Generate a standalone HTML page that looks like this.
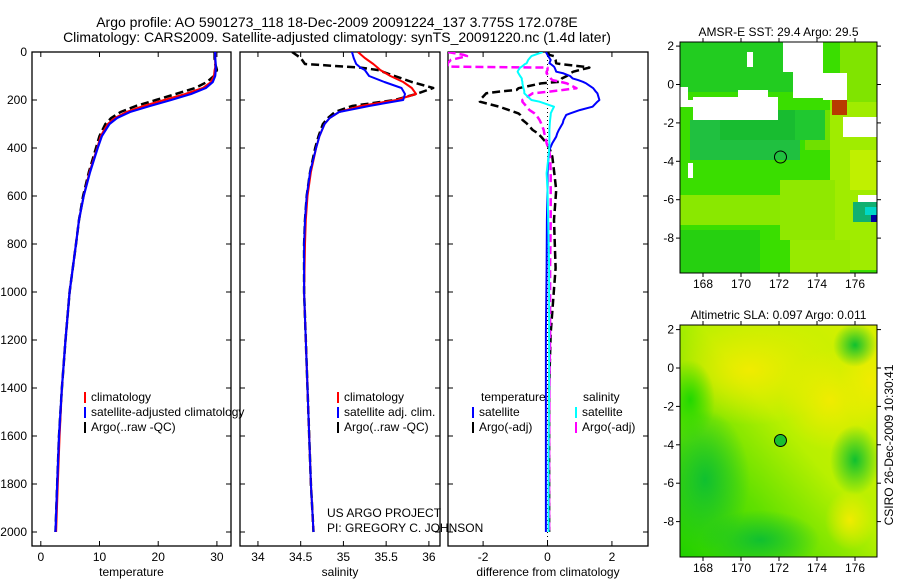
<!DOCTYPE html>
<html><head><meta charset="utf-8">
<style>
html,body{margin:0;padding:0;background:#fff;}
body{width:900px;height:580px;overflow:hidden;font-family:"Liberation Sans",sans-serif;}
svg text{font-family:"Liberation Sans",sans-serif;fill:#000;}
</style></head>
<body>
<svg id="fig" width="900" height="580" viewBox="0 0 900 580" xmlns="http://www.w3.org/2000/svg">
<defs>
<radialGradient id="gy" cx="50%" cy="50%" r="50%"><stop offset="0" stop-color="#f0ec00"/><stop offset="1" stop-color="#f0ec00" stop-opacity="0"/></radialGradient>
<radialGradient id="gg" cx="50%" cy="50%" r="50%"><stop offset="0" stop-color="#10c030"/><stop offset="1" stop-color="#10c030" stop-opacity="0"/></radialGradient>
<radialGradient id="gb" cx="50%" cy="50%" r="50%"><stop offset="0" stop-color="#22d800"/><stop offset="1" stop-color="#22d800" stop-opacity="0"/></radialGradient>
<linearGradient id="slabg" x1="1" y1="0" x2="0" y2="1"><stop offset="0" stop-color="#d8f000"/><stop offset="0.45" stop-color="#b8f000"/><stop offset="0.7" stop-color="#60e000"/><stop offset="1" stop-color="#20d000"/></linearGradient>
<clipPath id="m1clip"><rect x="680" y="42" width="197" height="231"/></clipPath>
<clipPath id="m2clip"><rect x="680" y="325" width="197" height="232"/></clipPath>
<clipPath id="p1c"><rect x="32" y="52" width="199" height="494"/></clipPath>
<clipPath id="p2c"><rect x="240" y="52" width="200" height="494"/></clipPath>
<clipPath id="p3c"><rect x="448" y="52" width="200" height="494"/></clipPath>
</defs>
<text x="337" y="27" font-size="14" text-anchor="middle">Argo profile: AO 5901273_118 18-Dec-2009 20091224_137 3.775S 172.078E</text>
<text x="337" y="42" font-size="14" text-anchor="middle">Climatology: CARS2009. Satellite-adjusted climatology: synTS_20091220.nc (1.4d later)</text>
<g id="panels"></g>
<g id="maps"></g>
</svg>
<script>
// ---- profile data (depth in m) ----
const depth = [0,25,50,65,75,100,125,150,175,200,225,250,275,300,350,400,500,600,700,800,1000,1200,1400,1600,1800,2000];
const tempArgo = [29.6,29.6,29.7,29.9,30.0,29.5,28.3,26.3,23.0,19.6,16.2,13.6,12.0,11.0,10.0,9.4,8.2,7.2,6.5,6.0,4.9,4.2,3.6,3.1,2.8,2.5];
const tempClim = [29.7,29.7,29.7,29.7,29.6,29.5,29.0,27.6,24.6,21.0,17.5,14.6,12.6,11.4,10.2,9.6,8.3,7.3,6.5,6.0,4.9,4.2,3.6,3.2,2.9,2.6];
const tempSat  = [29.7,29.7,29.8,29.8,29.8,29.7,29.3,28.1,25.6,22.2,18.6,15.2,13.0,11.7,10.4,9.7,8.4,7.3,6.5,6.0,4.9,4.2,3.6,3.1,2.8,2.5];
const salArgo  = [34.40,34.50,34.55,35.20,35.40,35.60,35.80,36.05,35.85,35.60,35.10,34.90,34.82,34.76,34.71,34.67,34.61,34.57,34.55,34.54,34.54,34.56,34.58,34.60,34.62,34.65];
const salClim  = [35.17,35.25,35.35,35.40,35.43,35.55,35.70,35.80,35.85,35.62,35.20,34.95,34.84,34.78,34.72,34.68,34.62,34.58,34.56,34.55,34.54,34.56,34.58,34.60,34.62,34.65];
const salSat   = [35.10,35.12,35.15,35.20,35.25,35.30,35.48,35.68,35.72,35.70,35.30,34.95,34.84,34.78,34.72,34.68,34.61,34.57,34.55,34.54,34.54,34.56,34.58,34.60,34.62,34.65];
// ---- difference panel (plotted units) ----
const diffDepth = [0,12,17,33,47,50,61,65,75,82,89,100,110,117,124,131,151,158,165,172,200,207,228,242,256,262,283,297,325,339,353,380,408,436,505,575,700,900,1170,1400,1700,2000];
const tDiffSat  = [-0.05,0.0,0.02,0.1,0.06,0.1,0.2,0.22,0.25,0.27,0.5,0.7,0.78,0.95,1.1,1.2,1.42,1.46,1.5,1.55,1.61,1.55,1.4,1.0,0.7,0.58,0.5,0.47,0.35,0.3,0.27,0.15,0.06,0.03,0.0,0.0,-0.02,-0.03,-0.05,-0.05,-0.05,-0.05];
const tDiffArgo = [0.0,0.06,0.2,0.25,0.27,0.4,1.1,1.3,1.0,0.8,0.7,0.6,0.45,0.4,0.37,-0.2,-0.9,-0.96,-1.5,-1.9,-2.1,-2.1,-1.5,-1.2,-0.9,-0.85,-0.78,-0.65,-0.46,-0.3,-0.2,-0.03,0.08,0.15,0.21,0.27,0.2,0.25,0.1,0.05,0.05,0.05];
const sDiffSat  = [-0.15,-0.4,-0.5,-0.6,-0.65,-0.7,-0.8,-0.85,-0.9,-0.93,-0.9,-0.85,-0.8,-0.8,-0.78,-0.78,-0.75,-0.73,-0.72,-0.72,-0.5,-0.25,0.2,0.15,0.1,0.1,0.08,0.07,0.06,0.06,0.06,0.06,0.05,0.03,-0.03,0.0,0.02,0.05,0.05,0.05,0.03,0.03];
const sDiffArgo = [-3.1,-2.6,-2.5,-3.0,-3.1,-3.1,-3.1,0.0,0.0,-0.03,-0.03,0.05,0.1,0.15,0.4,0.6,0.9,0.5,0.06,-0.46,-0.78,-0.78,-0.65,-0.56,-0.4,-0.35,-0.25,-0.2,-0.12,-0.1,-0.06,-0.03,0.05,0.08,0.1,0.1,0.1,0.08,0.08,0.06,0.05,0.05];
// ---- tick labels ----
const depthTicks = [0,200,400,600,800,1000,1200,1400,1600,1800,2000];
const tempTicks = [0,10,20,30];
const salTicks = [34,34.5,35,35.5,36];
const salTickLabels = ["34","34.5","35","35.5","36"];
const diffTicks = [-2,0,2];
const lonTicks = [168,170,172,174,176];
const latTicks = [2,0,-2,-4,-6,-8];

const NS="http://www.w3.org/2000/svg";
function mk(tag,attrs,parent){const e=document.createElementNS(NS,tag);for(const k in attrs)e.setAttribute(k,attrs[k]);parent.appendChild(e);return e;}
const yD = d => 52 + d*0.24;
const P = document.getElementById('panels');

function panel(x0,x1,xmin,xmax,ticks,labels,title,name){
  const g=mk('g',{},P);
  
  
  const xs = v => x0 + (v-xmin)/(xmax-xmin)*(x1-x0);
  const fr=mk('rect',{x:x0,y:52,width:x1-x0,height:494,fill:'none',stroke:'#000','stroke-width':1.3},g);
  
  
  ticks.forEach((t,i)=>{
    const x=xs(t);
    mk('line',{x1:x,y1:52,x2:x,y2:57,stroke:'#000'},g);
    mk('line',{x1:x,y1:546,x2:x,y2:541,stroke:'#000'},g);
    const tx=mk('text',{x:x,y:561,'font-size':12,'text-anchor':'middle'},g);
    tx.textContent=labels[i];
    
    
  });
  depthTicks.forEach(d=>{
    mk('line',{x1:x0,y1:yD(d),x2:x0+5,y2:yD(d),stroke:'#000'},g);
    mk('line',{x1:x1,y1:yD(d),x2:x1-5,y2:yD(d),stroke:'#000'},g);
  });
  const tt=mk('text',{x:(x0+x1)/2,y:576,'font-size':12,'text-anchor':'middle'},g);
  tt.textContent=title;
  
  
  return {g,xs};
}
function line(p,vals,ds,color,w,dash,clip,name){
  const pts=vals.map((v,i)=>p.xs(v).toFixed(1)+','+yD(ds[i]).toFixed(1)).join(' ');
  const a={points:pts,fill:'none',stroke:color,'stroke-width':w,'clip-path':'url(#'+clip+')','stroke-linejoin':'round'};
  if(dash)a['stroke-dasharray']=dash;
  const e=mk('polyline',a,p.g);
  
  
}
function txt(g,x,y,s,name,size,anchor){
  const t=mk('text',{x:x,y:y,'font-size':size||12,'text-anchor':anchor||'start'},g);
  t.textContent=s;
  
  
  return t;
}
function legend(g,x,y,color,s,name){
  const m=mk('rect',{x:x,y:y-9,width:2,height:11,fill:color},g);
  
  
  txt(g,x+7,y,s,name);
}

depthTicks.forEach(d=>{
  txt(P,27,yD(d)+4,String(d),'y-tick-label',12,'end');
});

const p1=panel(32,231,-1.5,32.4,tempTicks,tempTicks.map(String),'temperature','temperature-panel');
line(p1,tempArgo,depth,'#000',2.5,'8,4','p1c','temp-argo-line');
line(p1,tempClim,depth,'#f00',2,null,'p1c','temp-climatology-line');
line(p1,tempSat,depth,'#00f',2.2,null,'p1c','temp-satellite-line');
legend(p1.g,84,401,'#f00','climatology','legend-climatology');
legend(p1.g,84,416,'#00f','satellite-adjusted climatology','legend-satellite-adjusted');
legend(p1.g,84,431,'#000','Argo(..raw -QC)','legend-argo-raw');

const p2=panel(240,440,33.79,36.13,salTicks,salTickLabels,'salinity','salinity-panel');
line(p2,salArgo,depth,'#000',2.5,'8,4','p2c','sal-argo-line');
line(p2,salClim,depth,'#f00',2,null,'p2c','sal-climatology-line');
line(p2,salSat,depth,'#00f',2,null,'p2c','sal-satellite-line');
legend(p2.g,337,401,'#f00','climatology','legend-sal-climatology');
legend(p2.g,337,416,'#00f','satellite adj. clim.','legend-sal-satellite');
legend(p2.g,337,431,'#000','Argo(..raw -QC)','legend-sal-argo');
txt(p2.g,327,517,'US ARGO PROJECT','project-label');
txt(p2.g,327,532,'PI: GREGORY C. JOHNSON','pi-label');

const p3=panel(448,648,-3.09,3.12,diffTicks,diffTicks.map(String),'difference from climatology','difference-panel');
mk('line',{x1:p3.xs(0),y1:52,x2:p3.xs(0),y2:546,stroke:'#000','stroke-dasharray':'1,3'},p3.g);
line(p3,tDiffArgo,diffDepth,'#000',2.5,'8,4','p3c','temp-diff-argo-line');
line(p3,sDiffArgo,diffDepth,'#f0f',2.5,'8,4','p3c','sal-diff-argo-line');
line(p3,tDiffSat,diffDepth,'#00f',2,null,'p3c','temp-diff-satellite-line');
line(p3,sDiffSat,diffDepth,'#0ff',2,null,'p3c','sal-diff-satellite-line');
txt(p3.g,481,401,'temperature','legend-temperature-header');
txt(p3.g,583,401,'salinity','legend-salinity-header');
legend(p3.g,472,416,'#00f','satellite','legend-temp-satellite');
legend(p3.g,472,431,'#000','Argo(-adj)','legend-temp-argo');
legend(p3.g,575,416,'#0ff','satellite','legend-sal-satellite');
legend(p3.g,575,431,'#f0f','Argo(-adj)','legend-sal-argo');

const M=document.getElementById('maps');
const floatLon=172.078, floatLat=-3.775;
function mapAxes(top,bot,lat0y,title,name,clipId,draw){
  const g=mk('g',{},M);
  
  
  const lx = lon => 703 + (lon-168)*19;
  const ly = lat => lat0y - lat*19.2;
  const inner=mk('g',{'clip-path':'url(#'+clipId+')'},g);
  draw(inner,lx,ly);
  const c=mk('circle',{cx:lx(floatLon),cy:ly(floatLat),r:6,fill:name==='sla-map'?'#18c030':'none',stroke:'#000','stroke-width':1},g);
  
  
  mk('rect',{x:680,y:top,width:197,height:bot-top,fill:'none',stroke:'#000','stroke-width':1},g);
  lonTicks.forEach(l=>{
    mk('line',{x1:lx(l),y1:bot,x2:lx(l),y2:bot+4,stroke:'#000'},g);
    mk('line',{x1:lx(l),y1:top,x2:lx(l),y2:top-4,stroke:'#000'},g);
    txt(g,lx(l),bot+15,String(l),name+'-x-tick-label',12,'middle');
  });
  latTicks.forEach(l=>{
    mk('line',{x1:676,y1:ly(l),x2:680,y2:ly(l),stroke:'#000'},g);
    mk('line',{x1:877,y1:ly(l),x2:881,y2:ly(l),stroke:'#000'},g);
    txt(g,674,ly(l)+4,String(l),name+'-y-tick-label',12,'end');
  });
  txt(g,778.5,top-6,title,name+'-title',12,'middle');
}
mapAxes(42,273,84.5,'AMSR-E SST: 29.4 Argo: 29.5','sst-map','m1clip',(g,lx,ly)=>{
  mk('rect',{x:680,y:42,width:197,height:231,fill:'#3ade00'},g);
  mk('rect',{x:680,y:42,width:120,height:50,fill:'#22cc20'},g);
  mk('rect',{x:690,y:120,width:110,height:40,fill:'#20c040'},g);
  mk('rect',{x:720,y:110,width:90,height:30,fill:'#18bc30'},g);
  mk('rect',{x:805,y:110,width:50,height:40,fill:'#70e000'},g);
  mk('rect',{x:830,y:100,width:47,height:170,fill:'#a0ec00'},g);
  mk('rect',{x:840,y:42,width:37,height:60,fill:'#80e400'},g);
  mk('rect',{x:850,y:150,width:27,height:40,fill:'#c0f000'},g);
  mk('rect',{x:680,y:195,width:110,height:30,fill:'#8ae800'},g);
  mk('rect',{x:780,y:180,width:55,height:60,fill:'#90e800'},g);
  mk('rect',{x:680,y:230,width:80,height:43,fill:'#26d010'},g);
  mk('rect',{x:790,y:240,width:60,height:33,fill:'#98ea00'},g);
  mk('rect',{x:795,y:110,width:30,height:30,fill:'#20c830'},g);
  [[693,97,85,23],[680,87,8,14],[738,90,30,10],[747,52,6,15],[783,42,40,30],[793,72,30,26],[823,73,24,27],[843,117,34,20],[688,163,5,15],[680,100,13,7]].forEach(r=>{
    const w=mk('rect',{x:r[0],y:r[1],width:r[2],height:r[3],fill:'#fff'},g);
    
    
  });
  mk('rect',{x:832,y:100,width:15,height:15,fill:'#b83a00'},g);
  mk('rect',{x:853,y:202,width:24,height:20,fill:'#10b070'},g);
  mk('rect',{x:865,y:207,width:12,height:8,fill:'#00d8c8'},g);
  mk('rect',{x:871,y:215,width:6,height:7,fill:'#0000a0'},g);
  mk('rect',{x:858,y:195,width:19,height:7,fill:'#fff'},g);
});
mapAxes(325,557,368,'Altimetric SLA: 0.097 Argo: 0.011','sla-map','m2clip',(g,lx,ly)=>{
  mk('rect',{x:680,y:325,width:197,height:232,fill:'url(#slabg)'},g);
  mk('ellipse',{cx:750,cy:370,rx:90,ry:55,fill:'url(#gy)'},g);
  mk('ellipse',{cx:830,cy:400,rx:50,ry:50,fill:'url(#gy)'},g);
  mk('ellipse',{cx:870,cy:380,rx:30,ry:50,fill:'url(#gy)'},g);
  mk('ellipse',{cx:855,cy:345,rx:22,ry:22,fill:'url(#gg)'},g);
  mk('ellipse',{cx:855,cy:460,rx:25,ry:35,fill:'url(#gg)'},g);
  mk('ellipse',{cx:705,cy:480,rx:45,ry:70,fill:'url(#gg)'},g);
  mk('ellipse',{cx:760,cy:540,rx:60,ry:30,fill:'url(#gg)'},g);
  mk('ellipse',{cx:690,cy:400,rx:25,ry:40,fill:'url(#gb)'},g);
  mk('ellipse',{cx:850,cy:520,rx:25,ry:30,fill:'url(#gy)'},g);
});
const ds=txt(M,0,0,'CSIRO 26-Dec-2009 10:30:41','timestamp-label',12,'middle');
ds.setAttribute('transform','translate(893,445) rotate(-90)');
</script>
</body></html>
